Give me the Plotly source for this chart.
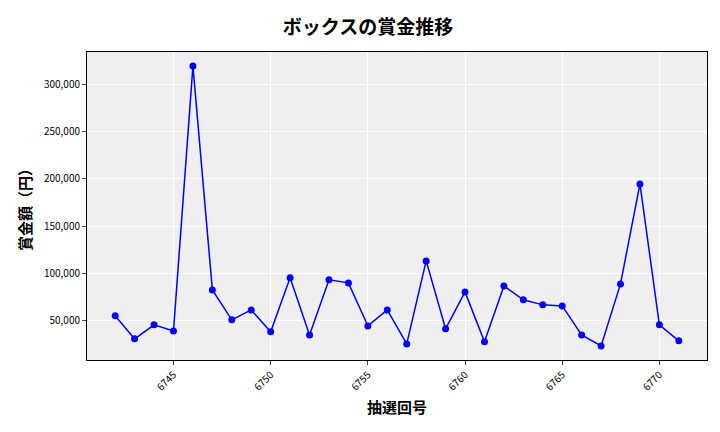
import plotly.graph_objects as go

draws = list(range(6742, 6772))
prizes = [55400, 31100, 45900, 39500, 319000, 82800, 51200, 61700, 38500, 95500,
          35300, 93400, 90200, 44800, 61700, 25800, 113400, 41700, 80700, 28000,
          87000, 72300, 67000, 65900, 35300, 23700, 89100, 194600, 45900, 29000]
xticks = [6745, 6750, 6755, 6760, 6765, 6770]
yticks = [50000, 100000, 150000, 200000, 250000, 300000]

font = "Noto Sans CJK JP"
fig = go.Figure(go.Scatter(x=draws, y=prizes, mode="lines+markers",
                           line=dict(color="blue", width=1.5),
                           marker=dict(color="blue", size=7)))
fig.update_layout(
    width=720, height=432,
    margin=dict(l=79, r=21, t=44, b=80, autoexpand=False),
    paper_bgcolor="white", plot_bgcolor="#efefef",
    font=dict(family=font, color="black", size=10),
    title=dict(text="<b>ボックスの賞金推移</b>", x=0.5, xanchor="center",
               y=0.955, yanchor="middle",
               font=dict(size=19, family=font)),
    showlegend=False,
)
fig.update_xaxes(tickvals=xticks, tickangle=-45, range=[6740.55, 6772.45],
                 showgrid=True, gridcolor="white", ticks="outside", ticklen=4,
                 showline=True, linecolor="black", mirror=True,
                 title=dict(text="<b>抽選回号</b>", standoff=10,
                            font=dict(size=15, family=font)))
fig.update_yaxes(tickvals=yticks, tickformat=",", range=[8800, 333900],
                 showgrid=True, gridcolor="white", ticks="outside", ticklen=4,
                 showline=True, linecolor="black", mirror=True,
                 title=dict(text="<b>賞金額（円）</b>", standoff=8,
                            font=dict(size=15, family=font)))
fig.write_html("out.html")
